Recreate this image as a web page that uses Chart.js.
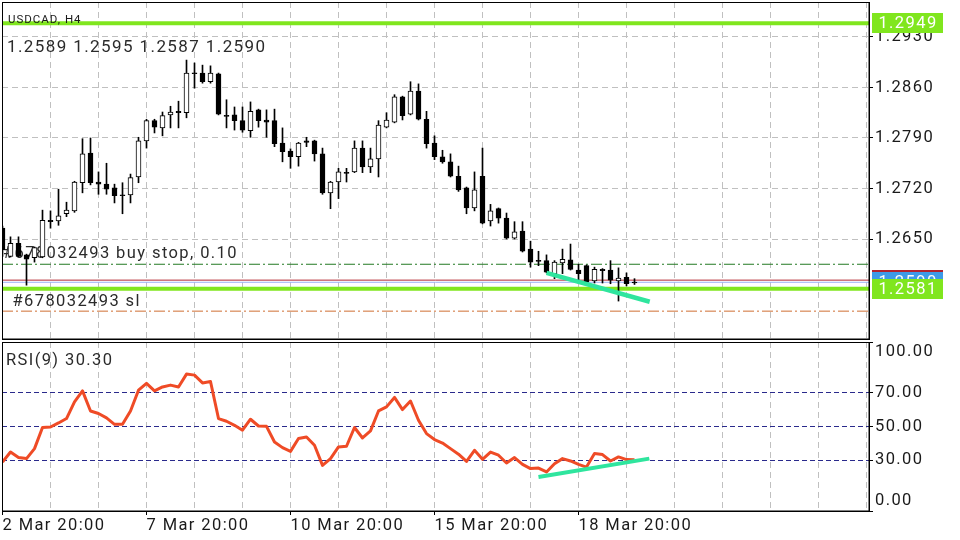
<!DOCTYPE html>
<html>
<head>
<meta charset="utf-8">
<script src="https://cdn.jsdelivr.net/npm/chart.js@4.4.0/dist/chart.umd.min.js"></script>
<style>
  html, body { margin: 0; padding: 0; background: #fff; }
  #wrap { position: relative; width: 960px; height: 540px; overflow: hidden; }
  canvas { position: absolute; left: 0; }
  #priceChart { top: 0; }
  #rsiChart { top: 340px; }
</style>
</head>
<body>
<div id="wrap">
  <canvas id="priceChart" width="960" height="340"></canvas>
  <canvas id="rsiChart" width="960" height="200"></canvas>
</div>
<script>
// USDCAD H4 candles, bar 0 = 2 Mar 20:00
const opens  = [1.2665,1.2626,1.2644,1.2628,1.2624,1.2625,1.2676,1.2675,1.2685,1.2689,
                1.2728,1.2769,1.2729,1.2726,1.2721,1.2711,1.2711,1.2736,1.2786,1.2814,
                1.2804,1.2822,1.2827,1.2825,1.2879,1.2880,1.2868,1.2879,1.2821,1.2822,
                1.2814,1.2800,1.2829,1.2815,1.2814,1.2783,1.2772,1.2764,1.2786,1.2786,
                1.2768,1.2714,1.2729,1.2742,1.2743,1.2776,1.2750,1.2761,1.2805,1.2812,
                1.2847,1.2823,1.2855,1.2816,1.2783,1.2764,1.2757,1.2737,1.2721,1.2693,
                1.2737,1.2675,1.2692,1.2679,1.2651,1.2661,1.2636,1.2620,1.2620,1.2602,
                1.2617,1.2621,1.2607,1.2613,1.2592,1.2608,1.2607,1.2592,1.2597,1.2589];
const highs  = [1.2668,1.2653,1.2653,1.2629,1.2639,1.2690,1.2689,1.2719,1.2701,1.2730,
                1.2789,1.2790,1.2743,1.2755,1.2726,1.2728,1.2740,1.2791,1.2816,1.2816,
                1.2826,1.2834,1.2841,1.2898,1.2894,1.2891,1.2890,1.2880,1.2843,1.2833,
                1.2833,1.2840,1.2830,1.2829,1.2830,1.2804,1.2775,1.2784,1.2791,1.2787,
                1.2776,1.2730,1.2748,1.2748,1.2786,1.2786,1.2776,1.2814,1.2825,1.2850,
                1.2848,1.2868,1.2865,1.2827,1.2793,1.2773,1.2768,1.2751,1.2722,1.2743,
                1.2776,1.2698,1.2693,1.2686,1.2674,1.2674,1.2647,1.2633,1.2628,1.2620,
                1.2636,1.2643,1.2615,1.2614,1.2611,1.2609,1.2620,1.2610,1.2603,1.2595];
const lows   = [1.2626,1.2625,1.2625,1.2586,1.2618,1.2624,1.2665,1.2669,1.2681,1.2687,
                1.2714,1.2725,1.2712,1.2712,1.2700,1.2685,1.2700,1.2728,1.2776,1.2797,
                1.2793,1.2804,1.2804,1.2818,1.2859,1.2866,1.2866,1.2822,1.2804,1.2801,
                1.2798,1.2791,1.2805,1.2791,1.2778,1.2757,1.2748,1.2751,1.2778,1.2758,
                1.2712,1.2692,1.2706,1.2729,1.2742,1.2742,1.2742,1.2736,1.2804,1.2811,
                1.2815,1.2822,1.2815,1.2776,1.2760,1.2755,1.2736,1.2716,1.2685,1.2689,
                1.2671,1.2668,1.2672,1.2650,1.2650,1.2632,1.2611,1.2613,1.2603,1.2595,
                1.2602,1.2607,1.2589,1.2589,1.2589,1.2589,1.2588,1.2564,1.2585,1.2587];
const closes = [1.2635,1.2644,1.2626,1.2622,1.2638,1.2676,1.2674,1.2682,1.2690,1.2729,
                1.2768,1.2728,1.2726,1.2719,1.2710,1.2710,1.2735,1.2786,1.2814,1.2805,
                1.2821,1.2826,1.2825,1.2880,1.2880,1.2868,1.2880,1.2823,1.2820,1.2814,
                1.2801,1.2827,1.2814,1.2812,1.2782,1.2771,1.2764,1.2783,1.2784,1.2768,
                1.2714,1.2729,1.2743,1.2741,1.2776,1.2750,1.2761,1.2808,1.2815,1.2847,
                1.2821,1.2855,1.2816,1.2782,1.2764,1.2757,1.2737,1.2718,1.2693,1.2718,
                1.2672,1.2689,1.2679,1.2651,1.2660,1.2633,1.2618,1.2619,1.2604,1.2618,
                1.2622,1.2608,1.2602,1.2590,1.2608,1.2606,1.2593,1.2596,1.2588,1.2590];

// RSI(9), one value per bar
const rsiValues = [29.0,34.9,31.6,31.0,36.9,49.4,49.7,52.1,54.7,64.6,
                   71.1,59.2,57.7,55.1,51.3,51.3,59.2,71.5,75.5,71.1,
                   73.4,74.5,73.4,81.0,80.4,75.8,76.6,54.7,53.1,50.7,
                   47.8,54.3,50.3,50.1,40.8,37.5,35.3,42.9,43.8,38.9,
                   27.0,31.0,37.9,38.3,49.4,43.2,47.4,59.2,61.6,67.2,
                   60.0,65.1,53.7,45.8,42.3,40.2,36.9,33.6,29.3,35.9,
                   30.6,34.9,33.0,28.4,31.6,27.6,25.1,25.4,23.1,28.0,
                   31.0,29.6,27.6,26.0,34.0,33.4,29.6,32.0,30.4,30.3];

const priceTicks = [1.2650, 1.2720, 1.2790, 1.2860, 1.2930];
const rsiTicks = [0, 30, 50, 70, 100];
const rsiLevels = [30, 50, 70];
const timeLabels = ['2 Mar 20:00', '7 Mar 20:00', '10 Mar 20:00', '15 Mar 20:00', '18 Mar 20:00'];
const timeLabelBars = [0, 18, 36, 54, 72];

const greenLevels = [1.2949, 1.2581];
const askPrice = 1.2593;
const bidPrice = 1.2590;
const buyStopPrice = 1.2615;
const stopLossPrice = 1.2550;
const priceTrend = [[68, 1.2603], [80.9, 1.2563]];
const rsiTrend = [[67, 20.1], [80.85, 31.0]];

const symbolText = 'USDCAD, H4';
const orderText = '#678032493 buy stop, 0.10';
const slText = '#678032493 sl';

// view settings
const xMin = -0.0625, xMax = 108.3125;
const gridBars = [];
for (let b = 0; b <= 108; b += 6) gridBars.push(b);

const GREEN = '#80e61e';
const TREND = '#2fe59e';
const GRID = '#c0c0c0';
const TEXT = '#2b2b2b';

Chart.defaults.font.family = 'Roboto';
Chart.defaults.color = '#1a1a1a';

const spacing = {
  id: 'spacing',
  beforeDraw(chart) { chart.ctx.letterSpacing = '1.4px'; }
};

const noPad = s => { s.paddingTop = 0; s.paddingBottom = 0; s.paddingLeft = 0; s.paddingRight = 0; };

function frame(chart) {
  const { ctx, chartArea: a } = chart;
  ctx.save();
  ctx.strokeStyle = '#000';
  ctx.lineWidth = 1;
  ctx.strokeRect(Math.round(a.left) + 0.5, Math.round(a.top) + 0.5,
                 Math.round(a.right - a.left) - 0.5, Math.round(a.bottom - a.top) - 0.5);
  ctx.restore();
}

const across = p => [{ x: xMin, y: p }, { x: xMax, y: p }];
const levelLine = (p, color, width, dash, order) => ({
  type: 'line', data: across(p), borderColor: color, borderWidth: width,
  borderDash: dash || [], pointRadius: 0, order: order
});

const priceOverlay = {
  id: 'priceOverlay',
  beforeDatasetsDraw(chart) {
    const { ctx, scales: { y } } = chart;
    ctx.save();
    ctx.letterSpacing = '1.4px';
    ctx.font = '16.5px Roboto';
    ctx.fillStyle = TEXT;
    ctx.textBaseline = 'alphabetic';
    ctx.fillText(orderText, 3, y.getPixelForValue(buyStopPrice) - 6);
    ctx.fillText(slText, 12.5, y.getPixelForValue(stopLossPrice) - 5.5);
    ctx.restore();
  },
  afterDraw(chart) {
    const { ctx, chartArea: a, scales: { y } } = chart;
    frame(chart);
    const n = opens.length - 1;
    ctx.save();
    ctx.letterSpacing = '1px';
    ctx.font = '11.5px Roboto';
    ctx.fillStyle = '#1a1a1a';
    ctx.textBaseline = 'alphabetic';
    ctx.fillText(symbolText, 8, 22.5);
    ctx.letterSpacing = '1.4px';
    ctx.font = '17px Roboto';
    ctx.fillStyle = TEXT;
    ctx.fillText([opens[n], highs[n], lows[n], closes[n]].map(v => v.toFixed(4)).join(' '), 7, 52);

    const box = (price, bg) => {
      const py = y.getPixelForValue(price);
      ctx.fillStyle = bg;
      ctx.fillRect(a.right + 3, Math.round(py) - 10, 71, 20);
      ctx.fillStyle = '#fff';
      ctx.font = '16.5px Roboto';
      ctx.textAlign = 'center';
      ctx.textBaseline = 'middle';
      ctx.fillText(price.toFixed(4), a.right + 3 + 36, Math.round(py) + 1);
    };
    box(askPrice, '#b3222e');
    box(bidPrice, '#3d9ae8');
    greenLevels.forEach(p => box(p, GREEN));
    ctx.restore();
  }
};

const bodyColor = c => {
  const [o, cl] = c.raw.y;
  return (cl > o && cl - o >= 0.0002) ? '#fff' : '#000';
};

new Chart(document.getElementById('priceChart'), {
  type: 'bar',
  data: {
    datasets: [
      { type: 'line', data: priceTrend.map(([x, y]) => ({ x, y })), borderColor: TREND,
        borderWidth: 4.5, pointRadius: 0, order: 0 },
      { type: 'bar', data: opens.map((o, i) => ({ x: i, y: [o, closes[i]] })),
        barThickness: 5, minBarLength: 1, borderWidth: 1, borderColor: '#000',
        borderSkipped: false, backgroundColor: bodyColor, grouped: false, order: 1 },
      { type: 'bar', data: lows.map((l, i) => ({ x: i, y: [l, highs[i]] })),
        barThickness: 1, borderWidth: 0, backgroundColor: '#000', grouped: false, order: 2 },
      levelLine(askPrice, '#b3262f', 1, null, 3),
      levelLine(bidPrice, '#9db3f5', 1, null, 3),
      levelLine(buyStopPrice, '#237a23', 1, [11, 3, 2, 3], 3),
      levelLine(stopLossPrice, '#cf6f33', 1, [11, 3, 2, 3], 3),
      ...greenLevels.map(p => levelLine(p, GREEN, 4, null, 4))
    ]
  },
  options: {
    responsive: false,
    animation: false,
    events: [],
    devicePixelRatio: 1,
    layout: { padding: { top: 2, left: 2, right: 0, bottom: 0 } },
    plugins: { legend: { display: false }, tooltip: { enabled: false } },
    scales: {
      x: {
        type: 'linear', min: xMin, max: xMax, offset: false,
        afterBuildTicks: s => { s.ticks = gridBars.map(v => ({ value: v })); },
        ticks: { display: false },
        grid: { color: GRID, drawTicks: false, offset: false },
        border: { display: true, color: '#000', dash: [6, 4] },
        afterFit: s => { s.height = 1; noPad(s); }
      },
      y: {
        type: 'linear', position: 'right', min: 1.25114, max: 1.29785,
        afterBuildTicks: s => { s.ticks = priceTicks.map(v => ({ value: v })); },
        ticks: { callback: v => v.toFixed(4), font: { size: 16.5 }, padding: 2, autoSkip: false, color: '#1a1a1a' },
        grid: { color: GRID, tickColor: '#000', tickLength: 4, tickBorderDash: [] },
        border: { display: true, color: '#000', dash: [6, 4] },
        afterFit: s => { s.width = 91; noPad(s); }
      }
    }
  },
  plugins: [spacing, priceOverlay]
});

const rsiOverlay = {
  id: 'rsiOverlay',
  afterDraw(chart) {
    const { ctx } = chart;
    frame(chart);
    ctx.save();
    ctx.letterSpacing = '1.4px';
    ctx.font = '16.5px Roboto';
    ctx.fillStyle = TEXT;
    ctx.textBaseline = 'alphabetic';
    ctx.fillText('RSI(9) ' + rsiValues[rsiValues.length - 1].toFixed(2), 6, 25);
    ctx.restore();
  }
};

new Chart(document.getElementById('rsiChart'), {
  type: 'line',
  data: {
    datasets: [
      { data: rsiTrend.map(([x, y]) => ({ x, y })), borderColor: TREND, borderWidth: 4,
        pointRadius: 0, order: 0 },
      { data: rsiValues.map((v, i) => ({ x: i, y: v })), borderColor: '#ef4b26', borderWidth: 3,
        pointRadius: 0, tension: 0, borderJoinStyle: 'round', order: 1 }
    ]
  },
  options: {
    responsive: false,
    animation: false,
    events: [],
    devicePixelRatio: 1,
    layout: { padding: { top: 2, left: 2, right: 0, bottom: 0 } },
    plugins: { legend: { display: false }, tooltip: { enabled: false } },
    scales: {
      x: {
        type: 'linear', min: xMin, max: xMax, offset: false,
        afterBuildTicks: s => { s.ticks = gridBars.map(v => ({ value: v })); },
        ticks: {
          callback: v => { const k = timeLabelBars.indexOf(v); return k >= 0 ? timeLabels[k] : ''; },
          align: 'start', maxRotation: 0, autoSkip: false, padding: 1,
          font: { size: 16.5 }, color: '#1a1a1a'
        },
        grid: {
          color: GRID, tickLength: 4, tickBorderDash: [],
          tickColor: c => timeLabelBars.includes(c.tick && c.tick.value) ? '#000' : 'rgba(0,0,0,0)'
        },
        border: { display: true, color: '#000', dash: [6, 4] },
        afterFit: s => { s.height = 29; noPad(s); }
      },
      y: {
        type: 'linear', position: 'right', min: 0, max: 100,
        afterBuildTicks: s => { s.ticks = rsiTicks.map(v => ({ value: v })); },
        ticks: {
          callback: v => v === 100 ? ['', v.toFixed(2)] : v === 0 ? [v.toFixed(2), ''] : v.toFixed(2),
          font: { size: 16.5 }, padding: 2, autoSkip: false, color: '#1a1a1a'
        },
        grid: {
          color: c => rsiLevels.includes(c.tick && c.tick.value) ? '#2a2a8c' : 'rgba(0,0,0,0)',
          tickColor: '#000', tickLength: 4, tickBorderDash: []
        },
        border: { display: true, color: '#000', dash: [5, 3] },
        afterFit: s => { s.width = 91; noPad(s); }
      }
    }
  },
  plugins: [spacing, rsiOverlay]
});
</script>
</body>
</html>
